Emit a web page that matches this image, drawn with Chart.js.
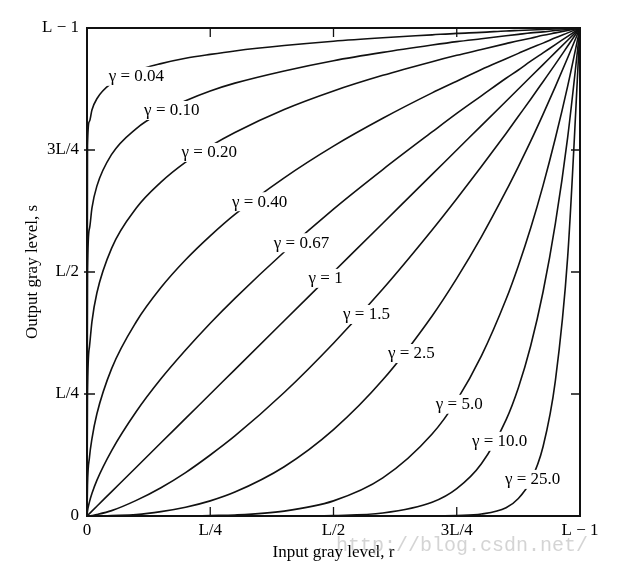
<!DOCTYPE html>
<html>
<head>
<meta charset="utf-8">
<script src="https://cdn.jsdelivr.net/npm/chart.js@4.4.0/dist/chart.umd.min.js"></script>
<style>
html, body { margin: 0; padding: 0; background: #fff; }
</style>
</head>
<body>
<canvas id="gammaChart" width="632" height="573"></canvas>
<script>
// input level r (0..1 of L-1), shared by all curves
var rValues = [0, 0.001, 0.005, 0.01, 0.02, 0.05, 0.1, 0.15, 0.2, 0.25, 0.3, 0.4, 0.5, 0.6, 0.7, 0.75, 0.8, 0.85, 0.875, 0.9, 0.925, 0.95, 0.975, 1];

// output level s for each gamma curve
var s004  = [0, 0.759, 0.809, 0.832, 0.855, 0.887, 0.912, 0.927, 0.938, 0.946, 0.953, 0.964, 0.973, 0.980, 0.986, 0.989, 0.991, 0.994, 0.995, 0.996, 0.997, 0.998, 0.999, 1];
var s010  = [0, 0.501, 0.589, 0.631, 0.676, 0.741, 0.794, 0.827, 0.851, 0.871, 0.887, 0.912, 0.933, 0.950, 0.965, 0.972, 0.978, 0.984, 0.987, 0.990, 0.992, 0.995, 0.997, 1];
var s020  = [0, 0.251, 0.347, 0.398, 0.457, 0.549, 0.631, 0.684, 0.725, 0.758, 0.786, 0.833, 0.871, 0.903, 0.931, 0.944, 0.956, 0.968, 0.974, 0.979, 0.985, 0.990, 0.995, 1];
var s040  = [0, 0.063, 0.120, 0.158, 0.209, 0.302, 0.398, 0.468, 0.525, 0.574, 0.618, 0.693, 0.758, 0.815, 0.867, 0.891, 0.915, 0.937, 0.948, 0.959, 0.969, 0.980, 0.990, 1];
var s067  = [0, 0.010, 0.029, 0.046, 0.073, 0.134, 0.214, 0.281, 0.340, 0.395, 0.446, 0.541, 0.629, 0.710, 0.787, 0.825, 0.861, 0.897, 0.914, 0.932, 0.949, 0.966, 0.983, 1];
var s100  = [0, 0.001, 0.005, 0.01, 0.02, 0.05, 0.1, 0.15, 0.2, 0.25, 0.3, 0.4, 0.5, 0.6, 0.7, 0.75, 0.8, 0.85, 0.875, 0.9, 0.925, 0.95, 0.975, 1];
var s150  = [0, 0, 0, 0.001, 0.003, 0.011, 0.032, 0.058, 0.089, 0.125, 0.164, 0.253, 0.354, 0.465, 0.586, 0.650, 0.716, 0.784, 0.819, 0.854, 0.890, 0.926, 0.963, 1];
var s250  = [0, 0, 0, 0, 0, 0.001, 0.003, 0.009, 0.018, 0.031, 0.049, 0.101, 0.177, 0.279, 0.410, 0.487, 0.572, 0.666, 0.716, 0.768, 0.823, 0.880, 0.939, 1];
var s500  = [0, 0, 0, 0, 0, 0, 0, 0, 0, 0.001, 0.002, 0.010, 0.031, 0.078, 0.168, 0.237, 0.328, 0.444, 0.513, 0.590, 0.677, 0.774, 0.881, 1];
var s1000 = [0, 0, 0, 0, 0, 0, 0, 0, 0, 0, 0, 0, 0.001, 0.006, 0.028, 0.056, 0.107, 0.197, 0.263, 0.349, 0.459, 0.599, 0.776, 1];
var s2500 = [0, 0, 0, 0, 0, 0, 0, 0, 0, 0, 0, 0, 0, 0, 0, 0.001, 0.004, 0.017, 0.036, 0.072, 0.142, 0.277, 0.531, 1];

var gammaNames = ['0.04', '0.10', '0.20', '0.40', '0.67', '1', '1.5', '2.5', '5.0', '10.0', '25.0'];
var curves = [s004, s010, s020, s040, s067, s100, s150, s250, s500, s1000, s2500];

// where each "γ = ..." label sits, in data units
var labelR = [0.100, 0.172, 0.248, 0.350, 0.435, 0.484, 0.567, 0.658, 0.755, 0.837, 0.904];
var labelS = [0.902, 0.832, 0.746, 0.645, 0.561, 0.488, 0.414, 0.334, 0.230, 0.154, 0.076];

var tickValues = [0, 0.25, 0.5, 0.75, 1];
var tickLabels = ['0', 'L/4', 'L/2', '3L/4', 'L \u2212 1'];

var serif = '"Liberation Serif", "DejaVu Serif", serif';

var datasets = curves.map(function(s, k) {
    return {
        label: '\u03b3 = ' + gammaNames[k],
        data: rValues.map(function(r, i) { return { x: r, y: s[i] }; }),
        borderColor: '#111',
        borderWidth: 1.6,
        pointRadius: 0,
        fill: false,
        cubicInterpolationMode: 'monotone'
    };
});

// frame, inner ticks, curve labels and the watermark
var decorations = {
    id: 'decorations',
    afterDatasetsDraw: function(chart) {
        var ctx = chart.ctx, a = chart.chartArea;
        var xs = chart.scales.x, ys = chart.scales.y;
        ctx.save();

        // curve labels on white patches
        ctx.font = '17px ' + serif;
        ctx.textAlign = 'center';
        ctx.textBaseline = 'middle';
        for (var k = 0; k < gammaNames.length; k++) {
            var txt = '\u03b3 = ' + gammaNames[k];
            var px = xs.getPixelForValue(labelR[k]);
            var py = ys.getPixelForValue(labelS[k]);
            var w = ctx.measureText(txt).width;
            ctx.fillStyle = '#fff';
            ctx.fillRect(px - w / 2 - 3, py - 9, w + 6, 19);
            ctx.fillStyle = '#000';
            ctx.fillText(txt, px, py + 1);
        }

        // frame
        ctx.strokeStyle = '#111';
        ctx.lineWidth = 2;
        ctx.strokeRect(a.left, a.top, a.right - a.left, a.bottom - a.top);

        // inner tick marks on all four sides
        ctx.lineWidth = 1.3;
        ctx.beginPath();
        for (var i = 1; i < tickValues.length - 1; i++) {
            var tx = xs.getPixelForValue(tickValues[i]);
            var ty = ys.getPixelForValue(tickValues[i]);
            ctx.moveTo(tx, a.bottom); ctx.lineTo(tx, a.bottom - 9);
            ctx.moveTo(tx, a.top); ctx.lineTo(tx, a.top + 9);
            ctx.moveTo(a.left - 3, ty); ctx.lineTo(a.left + 8, ty);
            ctx.moveTo(a.right, ty); ctx.lineTo(a.right - 9, ty);
        }
        ctx.stroke();
        ctx.restore();
    },
    afterDraw: function(chart) {
        var ctx = chart.ctx;
        ctx.save();
        ctx.font = '20px "Liberation Mono", monospace';
        ctx.fillStyle = 'rgba(170,170,170,0.5)';
        ctx.textAlign = 'left';
        ctx.textBaseline = 'middle';
        ctx.fillText('http://blog.csdn.net/', 336, 546);
        ctx.restore();
    }
};

new Chart(document.getElementById('gammaChart'), {
    type: 'line',
    data: { datasets: datasets },
    options: {
        responsive: false,
        animation: false,
        layout: { padding: { top: 28, right: 52, left: 0, bottom: 0 } },
        plugins: {
            legend: { display: false },
            tooltip: { enabled: false }
        },
        scales: {
            x: {
                type: 'linear',
                min: 0,
                max: 1,
                afterBuildTicks: function(scale) {
                    scale.ticks = tickValues.map(function(v) { return { value: v }; });
                },
                afterFit: function(scale) { scale.height = 57; },
                grid: { display: false, drawTicks: false },
                border: { display: false },
                ticks: {
                    padding: 4,
                    maxRotation: 0,
                    color: '#000',
                    font: { family: serif, size: 17 },
                    callback: function(v) { return tickLabels[tickValues.indexOf(v)]; }
                },
                title: {
                    display: true,
                    text: 'Input gray level, r',
                    color: '#000',
                    font: { family: serif, size: 17 },
                    padding: { top: 2, bottom: 10 }
                }
            },
            y: {
                type: 'linear',
                min: 0,
                max: 1,
                afterBuildTicks: function(scale) {
                    scale.ticks = tickValues.map(function(v) { return { value: v }; });
                },
                afterFit: function(scale) { scale.width = 87; },
                grid: { display: false, drawTicks: false },
                border: { display: false },
                ticks: {
                    padding: 8,
                    color: '#000',
                    font: { family: serif, size: 17 },
                    callback: function(v) { return tickLabels[tickValues.indexOf(v)]; }
                },
                title: {
                    display: true,
                    text: 'Output gray level, s',
                    color: '#000',
                    font: { family: serif, size: 17 },
                    padding: { top: 22, bottom: 0 }
                }
            }
        }
    },
    plugins: [decorations]
});
</script>
</body>
</html>
